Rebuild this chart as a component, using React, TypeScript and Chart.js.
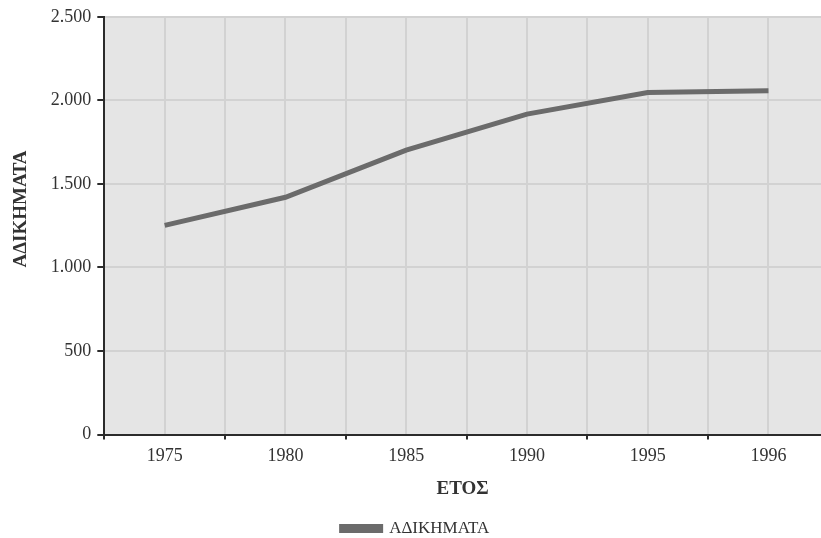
import React, { useEffect, useRef } from "react";
import { Chart, registerables } from "chart.js";

Chart.register(...registerables);

const YEARS = ["1975", "1980", "1985", "1990", "1995", "1996"];
const OFFENCES = [1252, 1420, 1702, 1918, 2047, 2057];
const SERIES_LABEL = "ΑΔΙΚΗΜΑΤΑ";
const X_TITLE = "ΕΤΟΣ";
const Y_TITLE = "       ΑΔΙΚΗΜΑΤΑ";

const FONT = "'Liberation Serif', 'DejaVu Serif', serif";
const TEXT = "#333333";
const LINE = "#6b6b6b";
const GRID = "#d2d2d2";
const AXIS = "#2b2b2b";

const plotBg = {
  id: "plotBg",
  beforeDraw(chart: any) {
    const { ctx, chartArea } = chart;
    ctx.save();
    ctx.fillStyle = "#e5e5e5";
    ctx.fillRect(chartArea.left, chartArea.top, chartArea.right - chartArea.left, chartArea.bottom - chartArea.top);
    ctx.restore();
  },
};

export default function App() {
  const ref = useRef<HTMLCanvasElement>(null);
  useEffect(() => {
    const chart = new Chart(ref.current!, {
      type: "line",
      data: {
        datasets: [
          {
            label: SERIES_LABEL,
            data: OFFENCES.map((v, i) => ({ x: i, y: v })),
            borderColor: LINE,
            backgroundColor: LINE,
            borderWidth: 5,
            pointRadius: 0,
            tension: 0,
          },
        ],
      },
      options: {
        animation: false,
        responsive: false,
        maintainAspectRatio: false,
        layout: { padding: { top: 5, left: 10, right: 0, bottom: -9 } },
        plugins: {
          legend: {
            position: "bottom",
            labels: {
              font: { family: FONT, size: 17 },
              color: TEXT,
              boxWidth: 39,
              boxHeight: 4,
              padding: 1,
            },
          },
          tooltip: { enabled: false },
        },
        scales: {
          x: {
            type: "linear",
            min: -0.5,
            max: 5.435,
            border: { display: true, color: AXIS, width: 2 },
            grid: {
              color: GRID,
              lineWidth: 2,
              tickLength: 5,
              tickColor: (ctx: any) => (ctx.tick && Math.abs(ctx.tick.value % 1) > 0.01 ? AXIS : "rgba(0,0,0,0)"),
              tickWidth: 2,
            },
            ticks: {
              stepSize: 0.5,
              includeBounds: false,
              autoSkip: false,
              maxRotation: 0,
              font: { family: FONT, size: 18 },
              color: TEXT,
              padding: 6,
              callback: (v: any) => (Number.isInteger(v) ? YEARS[v] : ""),
            },
            title: {
              display: true,
              text: X_TITLE,
              font: { family: FONT, size: 19, weight: "bold" },
              color: TEXT,
              padding: { top: 4, bottom: 19 },
            },
          },
          y: {
            min: 0,
            max: 2500,
            border: { display: true, color: AXIS, width: 2 },
            grid: { color: GRID, lineWidth: 2, tickLength: 7, tickColor: AXIS, tickWidth: 2 },
            ticks: {
              stepSize: 500,
              font: { family: FONT, size: 18 },
              color: TEXT,
              padding: 6,
              callback: (v: any) => Number(v).toLocaleString("de-DE"),
            },
            title: {
              display: true,
              text: Y_TITLE,
              font: { family: FONT, size: 19, weight: "bold" },
              color: TEXT,
              padding: { top: 0, bottom: 12 },
            },
          },
        },
      },
      plugins: [plotBg],
    });
    return () => chart.destroy();
  }, []);
  return (
    <div style={{ position: "absolute", left: 0, top: 0, width: 821, height: 538, background: "#fff" }}>
      <canvas ref={ref} width={821} height={538} />
    </div>
  );
}
